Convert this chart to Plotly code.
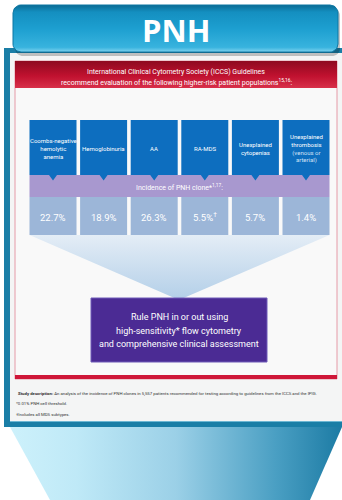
import numpy as np
import plotly.graph_objects as go

# ---- content ----
categories = [
    "Coombs-negative<br>hemolytic<br>anemia",
    "Hemoglobinuria",
    "AA",
    "RA-MDS",
    "Unexplained<br>cytopenias",
    "Unexplained<br>thrombosis<br><span style='color:#cfe0f5'>(venous or<br>arterial)</span>",
]
incidence = [22.7, 18.9, 26.3, 5.5, 5.7, 1.4]
value_marks = ["", "", "", "†", "", ""]

title_text = "PNH"
header_lines = [
    "International Clinical Cytometry Society (ICCS) Guidelines",
    "recommend evaluation of the following higher-risk patient populations<sup>15,16</sup>:",
]
band_text = "Incidence of PNH clone*<sup>1,17</sup>:"
action_lines = [
    "Rule PNH in or out using",
    "high-sensitivity* flow cytometry",
    "and comprehensive clinical assessment",
]
footnotes = [
    "<b>Study description:</b> An analysis of the incidence of PNH clones in 5,557 patients recommended for testing according to guidelines from the ICCS and the IPIG.",
    "*0.01% PNH cell threshold.",
    "†Includes all MDS subtypes.",
]

FONT = "Roboto"

# ---- layout geometry (pixel space, y downward) ----
n = len(categories)
pitch, box_w = 50.6, 47
xc = [53 + pitch * i for i in range(n)]


def rounded_rect(x0, y0, x1, y1, r, k=10):
    xs, ys = [], []
    corners = [(x1 - r, y0 + r, -90, 0), (x1 - r, y1 - r, 0, 90),
               (x0 + r, y1 - r, 90, 180), (x0 + r, y0 + r, 180, 270)]
    for cx, cy, a0, a1 in corners:
        t = np.radians(np.linspace(a0, a1, k))
        xs += list(cx + r * np.cos(t))
        ys += list(cy + r * np.sin(t))
    xs.append(xs[0]); ys.append(ys[0])
    return xs, ys


fig = go.Figure()

# lower trapezoid with horizontal gradient
fig.add_trace(go.Scatter(
    x=[10, 342, 310, 50, 10], y=[427, 427, 500, 500, 427],
    fill="toself", mode="none", hoverinfo="skip",
    fillgradient=dict(type="horizontal", colorscale=[
        [0, "#cdf1fb"], [0.2, "#bfe9f7"], [0.5, "#9bd0e7"],
        [0.8, "#4a9fc3"], [1, "#1c7ba4"]]),
))

# title banner: shadow, then body
sx, sy = rounded_rect(15, 8, 340, 56, 8)
fig.add_trace(go.Scatter(x=sx, y=sy, fill="toself", mode="none", hoverinfo="skip",
                         fillcolor="rgba(0,0,0,0.22)"))
bx, by = rounded_rect(13, 5, 338, 52, 8)
fig.add_trace(go.Scatter(
    x=bx, y=by, fill="toself", mode="lines", hoverinfo="skip",
    line=dict(color="#0d77a3", width=1),
    fillgradient=dict(type="vertical", colorscale=[
        [0, "#7fd3ef"], [0.1, "#38b3de"], [0.5, "#1d9fd0"],
        [0.85, "#148fc0"], [1, "#0b6b93"]]),
))

# red header strip
fig.add_trace(go.Scatter(
    x=[15, 337, 337, 15, 15], y=[61, 61, 88, 88, 61],
    fill="toself", mode="none", hoverinfo="skip",
    fillgradient=dict(type="vertical", colorscale=[
        [0, "#d8304a"], [0.45, "#c0112f"], [1, "#8e0a20"]]),
))

# funnel towards the action box
fig.add_trace(go.Scatter(
    x=[xc[0] - box_w / 2, xc[-1] + box_w / 2, 179, xc[0] - box_w / 2],
    y=[235, 235, 300, 235],
    fill="toself", mode="none", hoverinfo="skip",
    fillgradient=dict(type="vertical", colorscale=[
        [0, "#b3cfe8"], [1, "#e4edf6"]]),
))

# population boxes
fig.add_trace(go.Bar(
    x=xc, y=[55] * n, base=120, width=box_w,
    marker=dict(color="#0d6ebf", line=dict(width=0)), hoverinfo="skip",
))

# notches below each population box
nx, ny = [], []
for c in xc:
    nx += [c - 4, c + 4, c, c - 4, None]
    ny += [175, 175, 180.5, 175, None]
fig.add_trace(go.Scatter(x=nx, y=ny, fill="toself", mode="none",
                         fillcolor="#0d6ebf", hoverinfo="skip"))

# incidence boxes
fig.add_trace(go.Bar(
    x=xc, y=[38] * n, base=197, width=box_w,
    marker=dict(color="#9cb6d8", line=dict(width=0)), hoverinfo="skip",
))

shapes = [
    dict(type="rect", x0=4, x1=360, y0=48, y1=427, fillcolor="#1a7ea6",
         line=dict(width=0), layer="below"),
    dict(type="rect", x0=10, x1=360, y0=53, y1=421, fillcolor="#f4f5f5",
         line=dict(width=0), layer="below"),
    dict(type="line", x0=10, x1=360, y0=421.5, y1=421.5,
         line=dict(color="#6db7d3", width=1), layer="below"),
    dict(type="rect", x0=15, x1=337, y0=61, y1=379, fillcolor="#f9f9f9",
         line=dict(color="#e59aa7", width=1), layer="below"),
    dict(type="rect", x0=15, x1=337, y0=375, y1=379, fillcolor="#cf1739",
         line=dict(width=0), layer="below"),
    dict(type="rect", x0=xc[0] - box_w / 2, x1=xc[-1] + box_w / 2, y0=175, y1=197,
         fillcolor="#a898cf", line=dict(width=0), layer="below"),
    dict(type="rect", x0=91, x1=267, y0=298, y1=362, fillcolor="#4b2b94",
         line=dict(color="#6e5bb8", width=1), layer="above"),
]

ann = []
ann.append(dict(x=176, y=30, text=f"<b>{title_text}</b>", showarrow=False,
                font=dict(family="Open Sans", size=31, color="white")))
for i, line in enumerate(header_lines):
    ann.append(dict(x=176, y=72 + 10 * i, text=line, showarrow=False,
                    font=dict(family=FONT, size=7, color="white")))
for c, cat in zip(xc, categories):
    ann.append(dict(x=c, y=148, text=cat, showarrow=False,
                    font=dict(family=FONT, size=6, color="white")))
ann.append(dict(x=179, y=187, text=band_text, showarrow=False,
                font=dict(family=FONT, size=7, color="white")))
for c, v, m in zip(xc, incidence, value_marks):
    label = f"{v:.1f}%" + (f"<sup>{m}</sup>" if m else "")
    ann.append(dict(x=c, y=217, text=label, showarrow=False,
                    font=dict(family=FONT, size=9.5, color="white")))
for i, line in enumerate(action_lines):
    ann.append(dict(x=179, y=317 + 13.5 * i, text=line, showarrow=False,
                    font=dict(family=FONT, size=9, color="white")))
for i, line in enumerate(footnotes):
    ann.append(dict(x=16 if i == 0 else 14, y=393 + 10.5 * i, text=line,
                    showarrow=False, xanchor="left",
                    font=dict(family=FONT, size=4.3, color="#333333")))

fig.update_layout(
    width=342, height=500, margin=dict(l=0, r=0, t=0, b=0),
    xaxis=dict(range=[0, 342], visible=False, fixedrange=True),
    yaxis=dict(range=[500, 0], visible=False, fixedrange=True),
    plot_bgcolor="white", paper_bgcolor="white",
    showlegend=False, barmode="overlay",
    shapes=shapes, annotations=ann,
)

fig.write_html("out.html")
